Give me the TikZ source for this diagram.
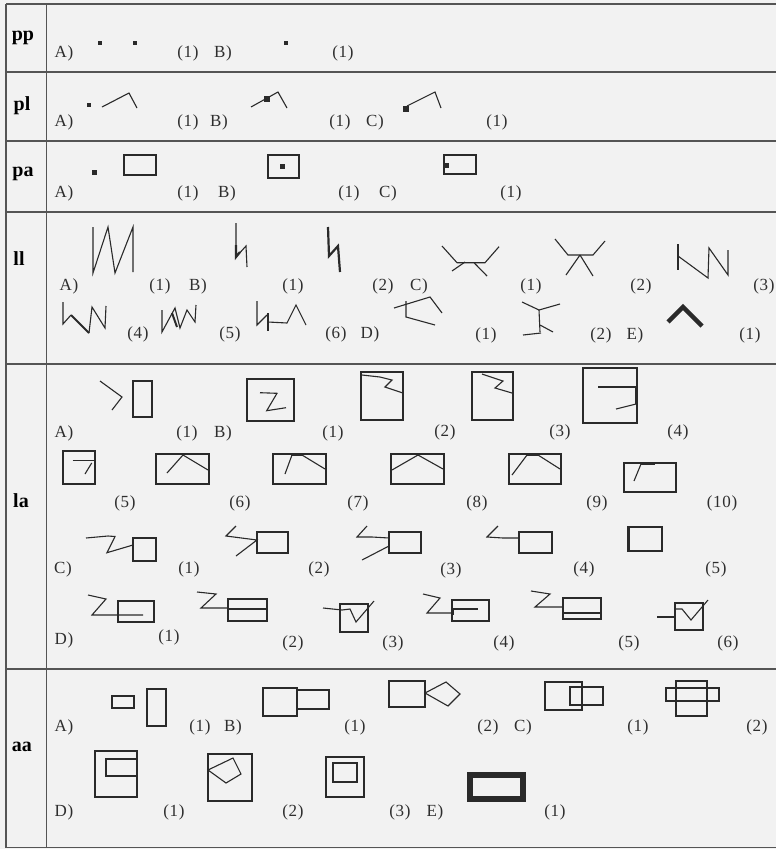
\documentclass[tikz,border=0pt]{standalone}
\usepackage{fontspec}
\setmainfont{Liberation Serif}
\newfontfamily\lblfam[LetterSpace=4]{Liberation Serif}
\definecolor{bg}{HTML}{F2F2F2}
\definecolor{ink}{HTML}{2A2A2A}
\definecolor{txt}{HTML}{2E2E2E}
\definecolor{gridc}{HTML}{555555}
\newcommand{\dotsq}[3]{\fill[ink] (#1-#3/2,#2-#3/2) rectangle (#1+#3/2,#2+#3/2);}
\begin{document}
\begin{tikzpicture}[x=1pt,y=-1pt,
  sh/.style={draw=ink, line width=1.1pt, line join=miter},
  lbl/.style={inner sep=0pt, text=txt, font=\lblfam\fontsize{17}{17}\selectfont},
  rowlbl/.style={inner sep=0pt, text=black, font=\bfseries\fontsize{20}{20}\selectfont},
  gridline/.style={draw=gridc, line width=1.4pt}]
\useasboundingbox (0,0) rectangle (776,849);
\fill[bg] (0,0) rectangle (776,849);
% table
\draw[gridline] (6,4) -- (776,4);
\draw[gridline] (6,72) -- (776,72);
\draw[gridline] (6,141) -- (776,141);
\draw[gridline] (6,212) -- (776,212);
\draw[gridline] (6,364) -- (776,364);
\draw[gridline] (6,669) -- (776,669);
\draw[gridline] (6,847.5) -- (776,847.5);
\draw[gridline] (6,4) -- (6,847.5);
\draw[gridline] (46.5,4) -- (46.5,847.5);
% row labels
\node[rowlbl] (rpp) at (23,38) {pp};
\node[rowlbl] (rpl) at (22,106) {pl};
\node[rowlbl] (rpa) at (23,174) {pa};
\node[rowlbl] (rll) at (19,259) {ll};
\node[rowlbl] (rla) at (21,501) {la};
\node[rowlbl] (raa) at (22,747) {aa};
% ---- pp
\node[lbl] (ppA) at (64,53) {A)};
\node[lbl] (ppA1) at (188,53) {(1)};
\node[lbl] (ppB) at (223,53) {B)};
\node[lbl] (ppB1) at (343,53) {(1)};
\dotsq{100}{43}{4}
\dotsq{135}{43}{4}
\dotsq{286}{43}{4}
% ---- pl
\node[lbl] (plA) at (64,122) {A)};
\node[lbl] (plA1) at (188,122) {(1)};
\node[lbl] (plB) at (219,122) {B)};
\node[lbl] (plB1) at (340,122) {(1)};
\node[lbl] (plC) at (375,122) {C)};
\node[lbl] (plC1) at (497,122) {(1)};
\dotsq{89}{105}{4}
\draw[sh] (102,107) -- (129,93) -- (137,108);
\draw[sh] (251,107) -- (278,92) -- (287,108);
\dotsq{267}{99}{6}
\draw[sh] (407,106) -- (435,92) -- (441,108);
\dotsq{406}{109}{6}
% ---- pa
\node[lbl] (paA) at (64,193) {A)};
\node[lbl] (paA1) at (188,193) {(1)};
\node[lbl] (paB) at (227,193) {B)};
\node[lbl] (paB1) at (349,193) {(1)};
\node[lbl] (paC) at (388,193) {C)};
\node[lbl] (paC1) at (511,193) {(1)};
\dotsq{94}{172}{5}
\draw[sh] (124,155) rectangle (156,175);
\draw[sh] (268,155) rectangle (299,178);
\dotsq{282}{166}{5}
\draw[sh] (444,155) rectangle (476,174);
\dotsq{446}{165}{5}
% ---- ll
\node[lbl] (llA) at (69,286) {A)};
\node[lbl] (llA1) at (160,286) {(1)};
\node[lbl] (llB) at (198,286) {B)};
\node[lbl] (llB1) at (293,286) {(1)};
\node[lbl] (llB2) at (383,286) {(2)};
\node[lbl] (llC) at (419,286) {C)};
\node[lbl] (llC1) at (531,286) {(1)};
\node[lbl] (llC2) at (641,286) {(2)};
\node[lbl] (llC3) at (764,286) {(3)};
\node[lbl] (llC4) at (138,334) {(4)};
\node[lbl] (llC5) at (230,334) {(5)};
\node[lbl] (llC6) at (336,334) {(6)};
\node[lbl] (llD) at (370,334) {D)};
\node[lbl] (llD1) at (486,335) {(1)};
\node[lbl] (llD2) at (601,335) {(2)};
\node[lbl] (llE) at (635,335) {E)};
\node[lbl] (llE1) at (750,335) {(1)};
\draw[sh] (93,227) -- (93,273) -- (108,227) -- (115,273) -- (133,227) -- (133,272);
\draw[sh] (236,223) -- (236,257) -- (246,246) -- (247,267);
\draw[ink, line width=2.2pt] (236,245) -- (236,257) -- (240,252);
\draw[ink, line width=2.2pt] (328,227) -- (329,256) -- (338,246) -- (340,272);
\draw[sh] (442,246) -- (457,262.7) -- (485,262.7) -- (499,246.7);
\draw[sh] (452,271) -- (465,262);
\draw[sh] (474,262.7) -- (487,276);
\draw[sh] (555,239) -- (568,255) -- (593,255) -- (605,241);
\draw[sh] (580,255) -- (566,275);
\draw[sh] (580,255) -- (593,276);
\draw[sh] (678,244) -- (678,270);
\draw[sh] (678,256) -- (708,278) -- (709,248) -- (728,275) -- (728,250);
\draw[sh] (63,302) -- (63,324) -- (71,315);
\draw[ink, line width=2pt] (71,315) -- (89,333);
\draw[sh] (89,333) -- (92,307) -- (105,328) -- (106,306);
\draw[sh] (162,310) -- (162,332) -- (175,308) -- (180,328) -- (187,310) -- (195,322) -- (196,305);
\draw[ink, line width=2pt] (172,313) -- (177,327);
\draw[sh] (257,301) -- (257,325) -- (267,315);
\draw[sh] (268,313) -- (268,331);
\draw[sh] (268,322) -- (287,323) -- (296,305) -- (306,325);
\draw[sh] (394,308) -- (430,297) -- (442,313);
\draw[sh] (406,301) -- (406,317) -- (435,325);
\draw[sh] (522,302) -- (539,310) -- (560,304);
\draw[sh] (539,310) -- (540,332);
\draw[sh] (540,325) -- (553,332);
\draw[sh] (523,335) -- (541,333);
\draw[ink, line width=4.5pt, line join=miter] (668,322) -- (683,307) -- (702,326);
% ---- la
\node[lbl] (laA) at (64,433) {A)};
\node[lbl] (laA1) at (187,433) {(1)};
\node[lbl] (laB) at (223,433) {B)};
\node[lbl] (laB1) at (333,433) {(1)};
\node[lbl] (laB2) at (445,432) {(2)};
\node[lbl] (laB3) at (560,432) {(3)};
\node[lbl] (laB4) at (678,432) {(4)};
\node[lbl] (laB5) at (125,503) {(5)};
\node[lbl] (laB6) at (240,503) {(6)};
\node[lbl] (laB7) at (358,503) {(7)};
\node[lbl] (laB8) at (477,503) {(8)};
\node[lbl] (laB9) at (597,503) {(9)};
\node[lbl] (laB10) at (722,503) {(10)};
\node[lbl] (laC) at (63,569) {C)};
\node[lbl] (laC1) at (189,569) {(1)};
\node[lbl] (laC2) at (319,569) {(2)};
\node[lbl] (laC3) at (451,570) {(3)};
\node[lbl] (laC4) at (584,569) {(4)};
\node[lbl] (laC5) at (716,569) {(5)};
\node[lbl] (laD) at (64,640) {D)};
\node[lbl] (laD1) at (169,637) {(1)};
\node[lbl] (laD2) at (293,643) {(2)};
\node[lbl] (laD3) at (393,643) {(3)};
\node[lbl] (laD4) at (504,643) {(4)};
\node[lbl] (laD5) at (629,643) {(5)};
\node[lbl] (laD6) at (728,643) {(6)};
% A, B rows
\draw[sh] (100,381) -- (122,397) -- (112,410);
\draw[sh] (133,381) rectangle (152,417);
\draw[sh] (247,379) rectangle (294,421);
\draw[sh] (260,392.7) -- (277,393.3) -- (266.7,410.7) -- (286,407.7);
\draw[sh] (361,372) rectangle (403,420);
\draw[sh] (362,375) -- (380,377) -- (392,380) -- (385,387) -- (403,393);
\draw[sh] (472,372) rectangle (513,420);
\draw[sh] (482,374) -- (503,381) -- (495,388) -- (512,393);
\draw[sh] (583,368) rectangle (637,423);
\draw[sh] (598,387) -- (637,387);
\draw[ink, line width=2.2pt] (636,387) -- (636,404);
\draw[sh] (636,404) -- (616,409);
% row 2
\draw[sh] (63,451) rectangle (95,484);
\draw[sh] (72.7,460.7) -- (94,460.7);
\draw[sh] (91.7,463) -- (85,474);
\draw[sh] (156,454) rectangle (209,484);
\draw[sh] (167,473) -- (183,455) -- (208,470);
\draw[sh] (273,454) rectangle (326,484);
\draw[ink, line width=2.6pt] (291,455) -- (302,455);
\draw[sh] (292,455) -- (285,474);
\draw[sh] (302,455) -- (325,469);
\draw[sh] (391,454) rectangle (444,484);
\draw[sh] (392,470) -- (418,455) -- (443,469);
\draw[sh] (509,454) rectangle (561,484);
\draw[ink, line width=2.6pt] (527,455) -- (538,455);
\draw[sh] (527,455) -- (512,475);
\draw[sh] (538,455) -- (560,469);
\draw[sh] (624,463) rectangle (676,492);
\draw[ink, line width=2.6pt] (641,464) -- (655,464);
\draw[sh] (641,464) -- (634,481);
% C row
\draw[sh] (86,538) -- (108,536) -- (115,536.5) -- (107,552.7) -- (133,545);
\draw[sh] (133,538) rectangle (156,561);
\draw[sh] (236,526) -- (226,536) -- (257,540) -- (236,556);
\draw[sh] (257,532) rectangle (288,553);
\draw[sh] (367,526) -- (357,537) -- (372,537) -- (389,538);
\draw[ink, line width=2.2pt] (389,538) -- (389,546);
\draw[sh] (389,546) -- (362,560);
\draw[sh] (389,532) rectangle (421,553);
\draw[sh] (498,526) -- (487,537) -- (503,538) -- (519,538);
\draw[ink, line width=2.2pt] (519,538) -- (519,552);
\draw[sh] (519,532) rectangle (552,553);
\draw[sh] (628,527) rectangle (662,551);
\draw[ink, line width=2.4pt] (628.5,528) -- (628.5,550);
% D row
\draw[sh] (88,595) -- (106,599) -- (92,615) -- (143,615);
\draw[sh] (118,601) rectangle (154,622);
\draw[sh] (197,592) -- (216,594) -- (201,608) -- (228,608);
\draw[sh] (228,599) rectangle (267,621);
\draw[sh] (228,609) -- (267,609);
\draw[sh] (323,608) -- (342,610) -- (350,609) -- (356,622) -- (374,601);
\draw[sh] (340,604) rectangle (368,632);
\draw[sh] (423,594) -- (440,598) -- (427,613) -- (453,613);
\draw[sh] (452,600) rectangle (489,621);
\draw[sh] (453,609) -- (478,609);
\draw[ink, line width=2.2pt] (453,608) -- (453,615);
\draw[sh] (531,591) -- (550,594) -- (535,607) -- (563,607);
\draw[sh] (563,598) rectangle (601,619);
\draw[sh] (563,613) -- (601,613);
\draw[ink, line width=2.2pt] (563,607) -- (563,618);
\draw[sh] (657,617) -- (675,617);
\draw[ink, line width=2.2pt] (675,608) -- (675,620);
\draw[sh] (675,603) rectangle (703,630);
\draw[sh] (676,609) -- (682,609) -- (691,620) -- (708,600);
% ---- aa
\node[lbl] (aaA) at (64,727) {A)};
\node[lbl] (aaA1) at (200,727) {(1)};
\node[lbl] (aaB) at (233,727) {B)};
\node[lbl] (aaB1) at (355,727) {(1)};
\node[lbl] (aaB2) at (488,727) {(2)};
\node[lbl] (aaC) at (523,727) {C)};
\node[lbl] (aaC1) at (638,727) {(1)};
\node[lbl] (aaC2) at (757,727) {(2)};
\node[lbl] (aaD) at (64,812) {D)};
\node[lbl] (aaD1) at (174,812) {(1)};
\node[lbl] (aaD2) at (293,812) {(2)};
\node[lbl] (aaD3) at (400,812) {(3)};
\node[lbl] (aaE) at (435,812) {E)};
\node[lbl] (aaE1) at (555,812) {(1)};
\draw[sh] (112,696) rectangle (134,708);
\draw[sh] (147,689) rectangle (166,726);
\draw[sh] (263,688) rectangle (297,716);
\draw[sh] (297,690) rectangle (329,709);
\draw[sh] (389,681) rectangle (425,707);
\draw[sh] (425,693) -- (446,682) -- (460,694) -- (448,706) -- cycle;
\draw[sh] (545,682) rectangle (582,710);
\draw[sh] (570,687) rectangle (603,705);
\draw[sh] (676,681) rectangle (707,716);
\draw[sh] (666,688) rectangle (719,701);
\draw[sh] (95,751) rectangle (137,797);
\draw[sh] (106,759) rectangle (137,776);
\draw[ink, line width=2pt] (137,759) -- (137,776);
\draw[sh] (208,754) rectangle (252,801);
\draw[sh] (208,770) -- (233,758) -- (241,774) -- (226,783) -- cycle;
\draw[sh] (326,757) rectangle (364,797);
\draw[sh] (333,763) rectangle (357,782);
\draw[ink, line width=6pt] (469.5,775) rectangle (523,798.5);
\end{tikzpicture}
\end{document}
